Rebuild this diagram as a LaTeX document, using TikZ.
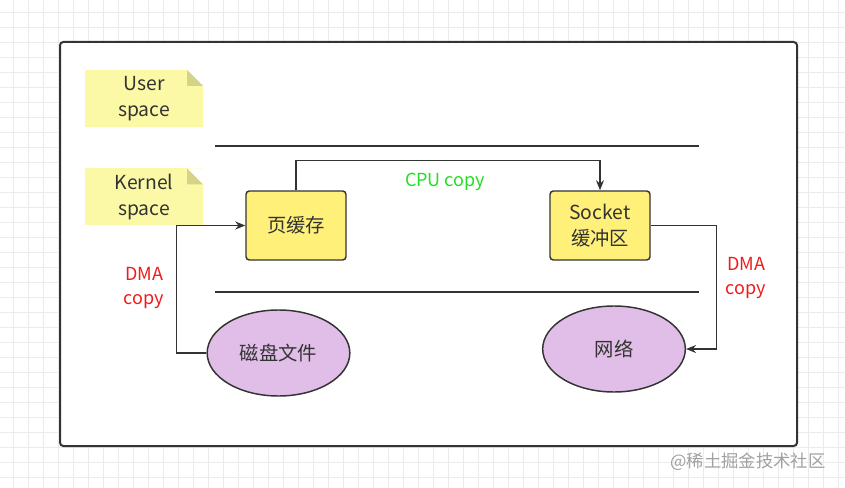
\documentclass[tikz,border=0pt]{standalone}
\usepackage{fontspec}
\setmainfont{Noto Sans CJK SC}
\usetikzlibrary{arrows.meta,shapes.geometric}

\definecolor{gridgray}{HTML}{EBEBEB}
\definecolor{inkgray}{HTML}{333333}
\definecolor{notefill}{HTML}{FCF9A6}
\definecolor{foldfill}{HTML}{D4D388}
\definecolor{bufffill}{HTML}{FFF07A}
\definecolor{diskfill}{HTML}{E1BEE7}
\definecolor{dmared}{HTML}{EE1C1C}
\definecolor{cpugreen}{HTML}{22E022}
\definecolor{markgray}{HTML}{A0A0A0}

\begin{document}
\begin{tikzpicture}[x=0.75pt,y=-0.75pt,>={Stealth[length=7.5pt,width=6pt]},
	every node/.style={font=\fontsize{14.5}{19.5}\selectfont, text=inkgray, align=center},
	note/.style={rectangle, fill=notefill, minimum width=88.5pt, minimum height=42.75pt, inner sep=0pt,
		path picture={
			\fill[white] ([xshift=-12pt]path picture bounding box.north east) -- (path picture bounding box.north east) -- ([yshift=-12pt]path picture bounding box.north east) -- cycle;
			\fill[foldfill] ([xshift=-12pt]path picture bounding box.north east) -- ([xshift=-12pt,yshift=-12pt]path picture bounding box.north east) -- ([yshift=-12pt]path picture bounding box.north east) -- cycle;}},
	buffer/.style={rectangle, rounded corners=2.5pt, draw=inkgray, line width=1.1pt, fill=bufffill, minimum width=75pt, minimum height=51.75pt},
	store/.style={ellipse, draw=inkgray, line width=1.1pt, fill=diskfill, minimum width=107pt, minimum height=64.5pt},
	flow/.style={draw=inkgray, line width=1.1pt, ->},
	copytag/.style={text=dmared}]
	\useasboundingbox (0,0) rectangle (845,488);
	\foreach \gx in {13,28,...,845} \draw[gridgray, line width=0.6pt] (\gx,0) -- (\gx,488);
	\foreach \gy in {12,27,...,488} \draw[gridgray, line width=0.6pt] (0,\gy) -- (845,\gy);
	\draw[inkgray, line width=1.5pt, fill=white, rounded corners=2.5pt] (60,42) rectangle (797,446);

	\node[note] (user) at (144,98.5) {User\\space};
	\node[note] (kernel) at (144,197) {Kernel\\space};
	\draw[inkgray, line width=1.5pt] (215,146) -- (699,146);
	\draw[inkgray, line width=1.5pt] (215,292) -- (699,292);

	\node[buffer] (page) at (296,225.5) {页缓存};
	\node[buffer] (sock) at (600,225.5) {Socket\\缓冲区};
	\node[store] (disk) at (278.5,353) {磁盘文件};
	\node[store] (net) at (614,349) {网络};

	\draw[flow] (page.north) -- ++(0,-30) -| (sock.north);
	\draw[flow] (disk.west) -- ++(-30,0) |- (page.west);
	\draw[flow] (sock.east) -- ++(66,0) |- (net.east);
	\node[text=cpugreen, font=\fontsize{13.5}{18}\selectfont] (cpu) at (445,182) {CPU copy};
	\node[copytag, font=\fontsize{13.5}{17.5}\selectfont] (dmain) at (144,288) {DMA\\copy};
	\node[copytag, font=\fontsize{13.5}{17.5}\selectfont] (dmaout) at (746,278) {DMA\\copy};

	\node[text=markgray, font=\fontsize{13}{16}\selectfont] (mark) at (748,462) {@稀土掘金技术社区};
\end{tikzpicture}
\end{document}
